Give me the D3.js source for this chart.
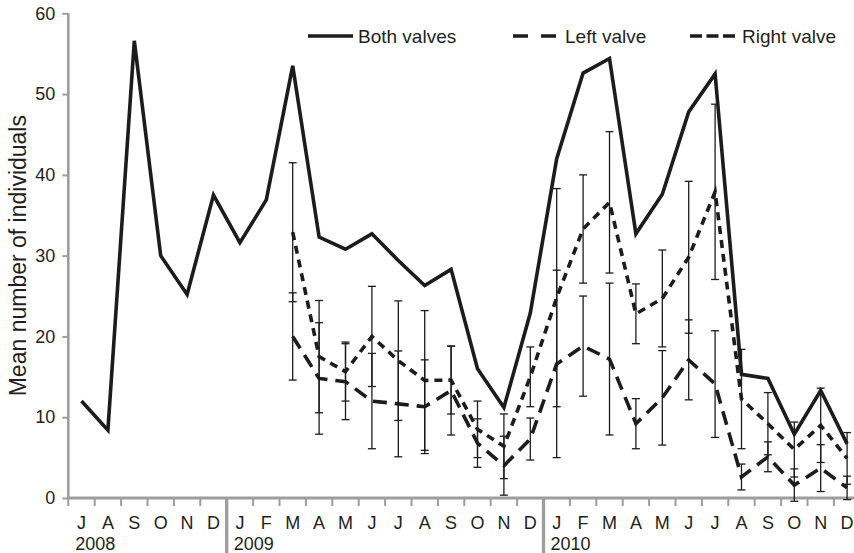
<!DOCTYPE html>
<html>
<head>
<meta charset="utf-8">
<script src="https://cdn.jsdelivr.net/npm/d3@7"></script>
<style>
  html, body { margin: 0; padding: 0; background: #fff; }
  svg { display: block; font-family: "Liberation Sans", Arial, sans-serif; }
</style>
</head>
<body>
<div id="chart"></div>
<script>
// sampling months, Jul 2008 - Dec 2010
const periods = [
  '2008-07', '2008-08', '2008-09', '2008-10', '2008-11', '2008-12',
  '2009-01', '2009-02', '2009-03', '2009-04', '2009-05', '2009-06',
  '2009-07', '2009-08', '2009-09', '2009-10', '2009-11', '2009-12',
  '2010-01', '2010-02', '2010-03', '2010-04', '2010-05', '2010-06',
  '2010-07', '2010-08', '2010-09', '2010-10', '2010-11', '2010-12'
];
const monthLetters = [
  'J', 'A', 'S', 'O', 'N', 'D',
  'J', 'F', 'M', 'A', 'M', 'J', 'J', 'A', 'S', 'O', 'N', 'D',
  'J', 'F', 'M', 'A', 'M', 'J', 'J', 'A', 'S', 'O', 'N', 'D'
];
const yearLabels = ['2008', '2009', '2010'];
const yearStarts = ['2008-07', '2009-01', '2010-01'];
const yTicks = [0, 10, 20, 30, 40, 50, 60];

const bothValves = [
  12.0, 8.4, 56.6, 30.0, 25.2, 37.5,
  31.6, 36.9, 53.5, 32.3, 30.8, 32.7, 29.4, 26.3, 28.3, 16.0, 11.2, 22.9,
  42.0, 52.6, 54.4, 32.7, 37.6, 47.8, 52.5, 15.3, 14.8, 7.9, 13.3, 6.7
];

// single valves were only counted from Mar 2009
const valvePeriods = periods.slice(8);
const leftValve = [
  20.0, 14.8, 14.4, 12.0, 11.65, 11.3, 13.3, 6.8, 4.0, 7.3,
  16.6, 18.8, 17.2, 9.2, 12.4, 17.1, 14.1, 2.6, 5.1, 1.6, 3.7, 1.25
];
const leftErr = [
  5.4, 6.9, 4.7, 5.9, 6.55, 5.8, 5.5, 3.0, 3.65, 2.6,
  11.6, 6.2, 9.4, 3.1, 5.85, 4.95, 6.6, 1.6, 1.85, 2.0, 2.9, 1.45
];
const rightValve = [
  32.9, 17.5, 15.65, 20.0, 17.0, 14.55, 14.6, 8.5, 6.4, 15.0,
  24.8, 33.3, 36.6, 22.8, 24.7, 29.8, 37.9, 12.25, 9.2, 6.0, 9.0, 4.9
];
const rightErr = [
  8.6, 6.95, 3.65, 6.2, 7.4, 8.65, 4.2, 3.5, 4.0, 3.7,
  13.5, 6.7, 8.75, 3.7, 6.0, 9.4, 10.85, 6.15, 3.85, 3.4, 4.6, 3.2
];

const seriesNames = ['Both valves', 'Left valve', 'Right valve'];

const width = 854;
const height = 553;
const margin = { top: 13.3, left: 68.3, bottom: 498 };
const ink = '#1c1c1c';
const axisGrey = '#9d9d9d';
const textColor = '#231f20';
const dashes = { 'Both valves': null, 'Left valve': '14,8', 'Right valve': '8,6' };
const legendDashes = { 'Both valves': null, 'Left valve': '15,13', 'Right valve': '12,4.5' };

const svg = d3.select('#chart')
  .append('svg')
  .attr('width', width)
  .attr('height', height);

const x = d3.scaleBand()
  .domain(periods)
  .range([margin.left, margin.left + 30 * 26.4])
  .padding(0);

const y = d3.scaleLinear()
  .domain([0, 60])
  .range([margin.bottom, margin.top]);

const cx = p => x(p) + x.bandwidth() / 2;

// y axis
const yAxis = svg.append('g')
  .attr('transform', `translate(${margin.left},0)`)
  .call(d3.axisLeft(y).tickValues(yTicks).tickSize(6).tickPadding(7));
yAxis.select('.domain')
  .attr('d', `M0,${margin.top}V${margin.bottom}`)
  .attr('stroke', axisGrey)
  .attr('stroke-width', 2.6);
yAxis.selectAll('.tick line').attr('stroke', axisGrey).attr('stroke-width', 2);
yAxis.selectAll('.tick text')
  .attr('fill', textColor)
  .style('font-size', '18px');

// x axis: month letters centred, ticks on month boundaries
const xAxis = svg.append('g')
  .attr('transform', `translate(0,${margin.bottom})`)
  .call(d3.axisBottom(x).tickSize(0).tickPadding(18)
    .tickFormat((d, i) => monthLetters[i]));
xAxis.select('.domain')
  .attr('d', `M${margin.left},0H${width}`)
  .attr('stroke', axisGrey)
  .attr('stroke-width', 3);
xAxis.selectAll('.tick text')
  .attr('fill', textColor)
  .style('font-size', '18px');

svg.append('g')
  .selectAll('line')
  .data(periods.filter(p => !yearStarts.slice(1).includes(p)))
  .join('line')
  .attr('x1', d => x(d))
  .attr('x2', d => x(d))
  .attr('y1', margin.bottom)
  .attr('y2', margin.bottom + 8)
  .attr('stroke', axisGrey)
  .attr('stroke-width', 2);

svg.append('g')
  .selectAll('line')
  .data(yearStarts.slice(1))
  .join('line')
  .attr('x1', d => x(d))
  .attr('x2', d => x(d))
  .attr('y1', margin.bottom)
  .attr('y2', height)
  .attr('stroke', axisGrey)
  .attr('stroke-width', 3.3);

svg.append('g')
  .selectAll('text')
  .data(yearLabels)
  .join('text')
  .attr('x', (d, i) => x(yearStarts[i]) + 7)
  .attr('y', 550)
  .attr('fill', textColor)
  .style('font-size', '18px')
  .text(d => d);

// y axis title
svg.append('text')
  .attr('transform', `translate(26,${(margin.top + margin.bottom) / 2}) rotate(-90)`)
  .attr('text-anchor', 'middle')
  .attr('fill', textColor)
  .style('font-size', '23px')
  .text('Mean number of individuals');

// error bars for single valves
function errorBars(values, errs) {
  const g = svg.append('g')
    .attr('stroke', ink)
    .attr('stroke-width', 1.3);
  const bars = g.selectAll('g')
    .data(valvePeriods.map((p, i) => ({ p, lo: values[i] - errs[i], hi: values[i] + errs[i] })))
    .join('g');
  bars.append('line')
    .attr('x1', d => cx(d.p)).attr('x2', d => cx(d.p))
    .attr('y1', d => y(d.lo)).attr('y2', d => y(d.hi));
  ['lo', 'hi'].forEach(k => {
    bars.append('line')
      .attr('x1', d => cx(d.p) - 4).attr('x2', d => cx(d.p) + 4)
      .attr('y1', d => y(d[k])).attr('y2', d => y(d[k]));
  });
}
errorBars(leftValve, leftErr);
errorBars(rightValve, rightErr);

// lines
const line = d3.line()
  .x(d => cx(d[0]))
  .y(d => y(d[1]));

const series = [
  { name: 'Both valves', pts: periods.map((p, i) => [p, bothValves[i]]) },
  { name: 'Left valve', pts: valvePeriods.map((p, i) => [p, leftValve[i]]) },
  { name: 'Right valve', pts: valvePeriods.map((p, i) => [p, rightValve[i]]) }
];

svg.append('g')
  .selectAll('path')
  .data(series)
  .join('path')
  .attr('d', d => line(d.pts))
  .attr('fill', 'none')
  .attr('stroke', ink)
  .attr('stroke-width', 3.6)
  .attr('stroke-linejoin', 'miter')
  .attr('stroke-dasharray', d => dashes[d.name]);

// legend
const legendX = [308, 513, 690];
const legend = svg.append('g')
  .selectAll('g')
  .data(seriesNames)
  .join('g')
  .attr('transform', (d, i) => `translate(${legendX[i]},36)`);
legend.append('line')
  .attr('x1', 0).attr('x2', 45)
  .attr('y1', 0).attr('y2', 0)
  .attr('stroke', ink)
  .attr('stroke-width', 3.6)
  .attr('stroke-dasharray', d => legendDashes[d]);
legend.append('text')
  .attr('x', (d, i) => i === 0 ? 50 : 52)
  .attr('y', 6.5)
  .attr('fill', textColor)
  .style('font-size', '19px')
  .text(d => d);
</script>
</body>
</html>
